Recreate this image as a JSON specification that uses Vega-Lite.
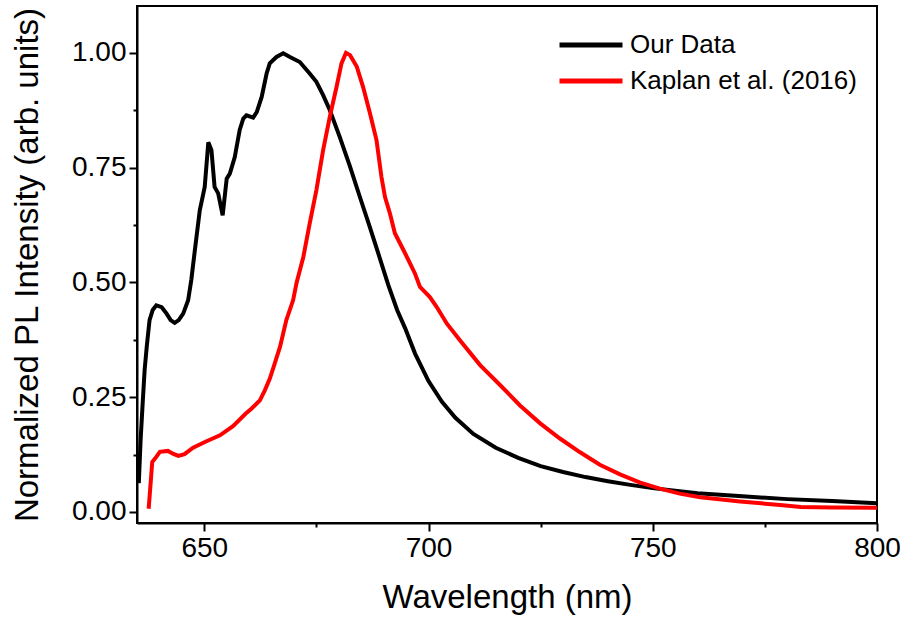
{
  "$schema": "https://vega.github.io/schema/vega-lite/v6.json",
  "width": 740,
  "height": 517,
  "autosize": {"type": "none"},
  "padding": {"left": 137, "top": 6, "right": 26, "bottom": 98},
  "background": "white",
  "config": {
    "view": {"stroke": "black", "strokeWidth": 2},
    "font": "Liberation Sans"
  },
  "datasets": {
    "spectra": [
      {"s": "Our Data", "x": 635.4, "y": 0.063},
      {"s": "Our Data", "x": 635.8, "y": 0.156},
      {"s": "Our Data", "x": 636.3, "y": 0.243},
      {"s": "Our Data", "x": 636.7, "y": 0.309},
      {"s": "Our Data", "x": 637.2, "y": 0.363},
      {"s": "Our Data", "x": 637.8, "y": 0.418},
      {"s": "Our Data", "x": 638.5, "y": 0.44},
      {"s": "Our Data", "x": 639.3, "y": 0.45},
      {"s": "Our Data", "x": 640.5, "y": 0.446},
      {"s": "Our Data", "x": 641.6, "y": 0.432},
      {"s": "Our Data", "x": 642.5, "y": 0.418},
      {"s": "Our Data", "x": 643.4, "y": 0.412},
      {"s": "Our Data", "x": 644.3, "y": 0.418},
      {"s": "Our Data", "x": 645.3, "y": 0.432},
      {"s": "Our Data", "x": 646.4, "y": 0.461},
      {"s": "Our Data", "x": 647.1, "y": 0.505},
      {"s": "Our Data", "x": 647.9, "y": 0.57},
      {"s": "Our Data", "x": 649.0, "y": 0.657},
      {"s": "Our Data", "x": 650.1, "y": 0.708},
      {"s": "Our Data", "x": 650.9, "y": 0.805},
      {"s": "Our Data", "x": 651.6, "y": 0.788},
      {"s": "Our Data", "x": 652.3, "y": 0.708},
      {"s": "Our Data", "x": 653.1, "y": 0.694},
      {"s": "Our Data", "x": 654.1, "y": 0.646},
      {"s": "Our Data", "x": 655.0, "y": 0.726},
      {"s": "Our Data", "x": 655.7, "y": 0.737},
      {"s": "Our Data", "x": 656.8, "y": 0.773},
      {"s": "Our Data", "x": 657.9, "y": 0.832},
      {"s": "Our Data", "x": 658.7, "y": 0.857},
      {"s": "Our Data", "x": 659.4, "y": 0.864},
      {"s": "Our Data", "x": 660.9, "y": 0.859},
      {"s": "Our Data", "x": 661.7, "y": 0.871},
      {"s": "Our Data", "x": 662.8, "y": 0.904},
      {"s": "Our Data", "x": 663.9, "y": 0.955},
      {"s": "Our Data", "x": 664.6, "y": 0.977},
      {"s": "Our Data", "x": 666.1, "y": 0.991},
      {"s": "Our Data", "x": 667.6, "y": 0.999},
      {"s": "Our Data", "x": 669.1, "y": 0.991},
      {"s": "Our Data", "x": 671.3, "y": 0.98},
      {"s": "Our Data", "x": 673.5, "y": 0.955},
      {"s": "Our Data", "x": 675.0, "y": 0.937},
      {"s": "Our Data", "x": 676.5, "y": 0.908},
      {"s": "Our Data", "x": 678.0, "y": 0.875},
      {"s": "Our Data", "x": 680.2, "y": 0.817},
      {"s": "Our Data", "x": 682.5, "y": 0.752},
      {"s": "Our Data", "x": 684.7, "y": 0.686},
      {"s": "Our Data", "x": 686.9, "y": 0.621},
      {"s": "Our Data", "x": 688.8, "y": 0.563},
      {"s": "Our Data", "x": 691.0, "y": 0.495},
      {"s": "Our Data", "x": 693.0, "y": 0.44},
      {"s": "Our Data", "x": 694.8, "y": 0.4},
      {"s": "Our Data", "x": 697.0, "y": 0.345},
      {"s": "Our Data", "x": 700.0, "y": 0.285},
      {"s": "Our Data", "x": 703.0, "y": 0.24},
      {"s": "Our Data", "x": 706.0, "y": 0.205},
      {"s": "Our Data", "x": 710.0, "y": 0.17},
      {"s": "Our Data", "x": 715.0, "y": 0.14},
      {"s": "Our Data", "x": 720.0, "y": 0.118},
      {"s": "Our Data", "x": 725.0, "y": 0.1},
      {"s": "Our Data", "x": 730.0, "y": 0.087},
      {"s": "Our Data", "x": 735.0, "y": 0.076},
      {"s": "Our Data", "x": 740.0, "y": 0.067},
      {"s": "Our Data", "x": 745.0, "y": 0.059},
      {"s": "Our Data", "x": 750.0, "y": 0.052},
      {"s": "Our Data", "x": 755.0, "y": 0.046},
      {"s": "Our Data", "x": 760.0, "y": 0.041},
      {"s": "Our Data", "x": 770.0, "y": 0.034},
      {"s": "Our Data", "x": 780.0, "y": 0.028},
      {"s": "Our Data", "x": 790.0, "y": 0.024},
      {"s": "Our Data", "x": 800.0, "y": 0.019},
      {"s": "Kaplan et al. (2016)", "x": 637.6, "y": 0.007},
      {"s": "Kaplan et al. (2016)", "x": 638.4, "y": 0.109},
      {"s": "Kaplan et al. (2016)", "x": 639.3, "y": 0.12},
      {"s": "Kaplan et al. (2016)", "x": 640.1, "y": 0.131},
      {"s": "Kaplan et al. (2016)", "x": 641.9, "y": 0.133},
      {"s": "Kaplan et al. (2016)", "x": 643.0, "y": 0.127},
      {"s": "Kaplan et al. (2016)", "x": 644.2, "y": 0.122},
      {"s": "Kaplan et al. (2016)", "x": 645.6, "y": 0.126},
      {"s": "Kaplan et al. (2016)", "x": 647.5, "y": 0.14},
      {"s": "Kaplan et al. (2016)", "x": 650.5, "y": 0.154},
      {"s": "Kaplan et al. (2016)", "x": 653.5, "y": 0.167},
      {"s": "Kaplan et al. (2016)", "x": 656.4, "y": 0.187},
      {"s": "Kaplan et al. (2016)", "x": 659.2, "y": 0.214},
      {"s": "Kaplan et al. (2016)", "x": 660.5, "y": 0.225},
      {"s": "Kaplan et al. (2016)", "x": 662.4, "y": 0.243},
      {"s": "Kaplan et al. (2016)", "x": 663.5, "y": 0.265},
      {"s": "Kaplan et al. (2016)", "x": 664.6, "y": 0.29},
      {"s": "Kaplan et al. (2016)", "x": 665.7, "y": 0.323},
      {"s": "Kaplan et al. (2016)", "x": 666.9, "y": 0.36},
      {"s": "Kaplan et al. (2016)", "x": 668.3, "y": 0.418},
      {"s": "Kaplan et al. (2016)", "x": 669.8, "y": 0.461},
      {"s": "Kaplan et al. (2016)", "x": 670.6, "y": 0.5},
      {"s": "Kaplan et al. (2016)", "x": 672.1, "y": 0.556},
      {"s": "Kaplan et al. (2016)", "x": 673.5, "y": 0.628},
      {"s": "Kaplan et al. (2016)", "x": 675.0, "y": 0.701},
      {"s": "Kaplan et al. (2016)", "x": 676.5, "y": 0.788},
      {"s": "Kaplan et al. (2016)", "x": 678.0, "y": 0.861},
      {"s": "Kaplan et al. (2016)", "x": 679.5, "y": 0.926},
      {"s": "Kaplan et al. (2016)", "x": 680.6, "y": 0.977},
      {"s": "Kaplan et al. (2016)", "x": 681.6, "y": 1.0},
      {"s": "Kaplan et al. (2016)", "x": 682.5, "y": 0.995},
      {"s": "Kaplan et al. (2016)", "x": 684.0, "y": 0.97},
      {"s": "Kaplan et al. (2016)", "x": 685.4, "y": 0.926},
      {"s": "Kaplan et al. (2016)", "x": 686.9, "y": 0.87},
      {"s": "Kaplan et al. (2016)", "x": 688.4, "y": 0.81},
      {"s": "Kaplan et al. (2016)", "x": 689.5, "y": 0.73},
      {"s": "Kaplan et al. (2016)", "x": 690.3, "y": 0.686},
      {"s": "Kaplan et al. (2016)", "x": 691.4, "y": 0.65},
      {"s": "Kaplan et al. (2016)", "x": 692.5, "y": 0.607},
      {"s": "Kaplan et al. (2016)", "x": 694.8, "y": 0.563},
      {"s": "Kaplan et al. (2016)", "x": 697.0, "y": 0.519},
      {"s": "Kaplan et al. (2016)", "x": 698.1, "y": 0.49},
      {"s": "Kaplan et al. (2016)", "x": 700.3, "y": 0.468},
      {"s": "Kaplan et al. (2016)", "x": 701.8, "y": 0.447},
      {"s": "Kaplan et al. (2016)", "x": 704.1, "y": 0.41},
      {"s": "Kaplan et al. (2016)", "x": 707.0, "y": 0.374},
      {"s": "Kaplan et al. (2016)", "x": 711.5, "y": 0.32},
      {"s": "Kaplan et al. (2016)", "x": 716.0, "y": 0.276},
      {"s": "Kaplan et al. (2016)", "x": 720.4, "y": 0.232},
      {"s": "Kaplan et al. (2016)", "x": 724.9, "y": 0.193},
      {"s": "Kaplan et al. (2016)", "x": 729.3, "y": 0.16},
      {"s": "Kaplan et al. (2016)", "x": 733.8, "y": 0.13},
      {"s": "Kaplan et al. (2016)", "x": 738.2, "y": 0.103},
      {"s": "Kaplan et al. (2016)", "x": 742.7, "y": 0.082},
      {"s": "Kaplan et al. (2016)", "x": 747.2, "y": 0.064},
      {"s": "Kaplan et al. (2016)", "x": 751.6, "y": 0.051},
      {"s": "Kaplan et al. (2016)", "x": 756.0, "y": 0.04},
      {"s": "Kaplan et al. (2016)", "x": 760.6, "y": 0.032},
      {"s": "Kaplan et al. (2016)", "x": 769.5, "y": 0.023},
      {"s": "Kaplan et al. (2016)", "x": 778.4, "y": 0.015},
      {"s": "Kaplan et al. (2016)", "x": 783.0, "y": 0.011},
      {"s": "Kaplan et al. (2016)", "x": 790.0, "y": 0.01},
      {"s": "Kaplan et al. (2016)", "x": 800.0, "y": 0.009}
    ]
  },
  "data": {"name": "spectra"},
  "mark": {"type": "line", "strokeWidth": 4, "clip": true},
  "encoding": {
    "x": {
      "field": "x",
      "type": "quantitative",
      "scale": {"domain": [635, 800], "nice": false, "zero": false},
      "axis": {
        "title": "Wavelength (nm)",
        "values": [650, 675, 700, 725, 750, 775, 800],
        "labelExpr": "datum.value % 50 === 0 ? datum.label : ''",
        "grid": false,
        "domainColor": "black",
        "domainWidth": 2,
        "tickColor": "black",
        "tickWidth": 2,
        "tickSize": {"condition": {"test": "datum.value % 50 === 0", "value": 8}, "value": 4},
        "labelFont": "Liberation Sans",
        "labelFontSize": 28,
        "labelColor": "black",
        "labelPadding": 3,
        "labelFlush": false,
        "labelOverlap": false,
        "titleFont": "Liberation Sans",
        "titleFontSize": 33,
        "titleFontWeight": "normal",
        "titleColor": "black",
        "titlePadding": 19
      }
    },
    "y": {
      "field": "y",
      "type": "quantitative",
      "scale": {"domain": [-0.024, 1.102], "nice": false, "zero": false},
      "axis": {
        "title": "Normalized PL Intensity (arb. units)",
        "values": [0, 0.125, 0.25, 0.375, 0.5, 0.625, 0.75, 0.875, 1.0],
        "labelExpr": "(datum.value * 4) % 1 === 0 ? format(datum.value, '.2f') : ''",
        "grid": false,
        "domainColor": "black",
        "domainWidth": 2,
        "tickColor": "black",
        "tickWidth": 2,
        "tickSize": {"condition": {"test": "(datum.value * 4) % 1 === 0", "value": 8}, "value": 4},
        "labelFont": "Liberation Sans",
        "labelFontSize": 28,
        "labelColor": "black",
        "labelPadding": 3,
        "labelFlush": false,
        "labelOverlap": false,
        "titleFont": "Liberation Sans",
        "titleFontSize": 33,
        "titleFontWeight": "normal",
        "titleColor": "black",
        "titlePadding": 27
      }
    },
    "color": {
      "field": "s",
      "type": "nominal",
      "scale": {"domain": ["Our Data", "Kaplan et al. (2016)"], "range": ["#000000", "#ff0000"]},
      "legend": {
        "title": null,
        "orient": "none",
        "legendX": 441,
        "legendY": 26,
        "symbolType": "M-3,0H3",
        "symbolSize": 441,
        "symbolStrokeWidth": 5,
        "symbolFillColor": "transparent",
        "labelFont": "Liberation Sans",
        "labelFontSize": 26,
        "labelColor": "black",
        "labelLimit": 0,
        "labelOffset": 26,
        "rowPadding": 10,
        "padding": 0
      }
    }
  }
}
